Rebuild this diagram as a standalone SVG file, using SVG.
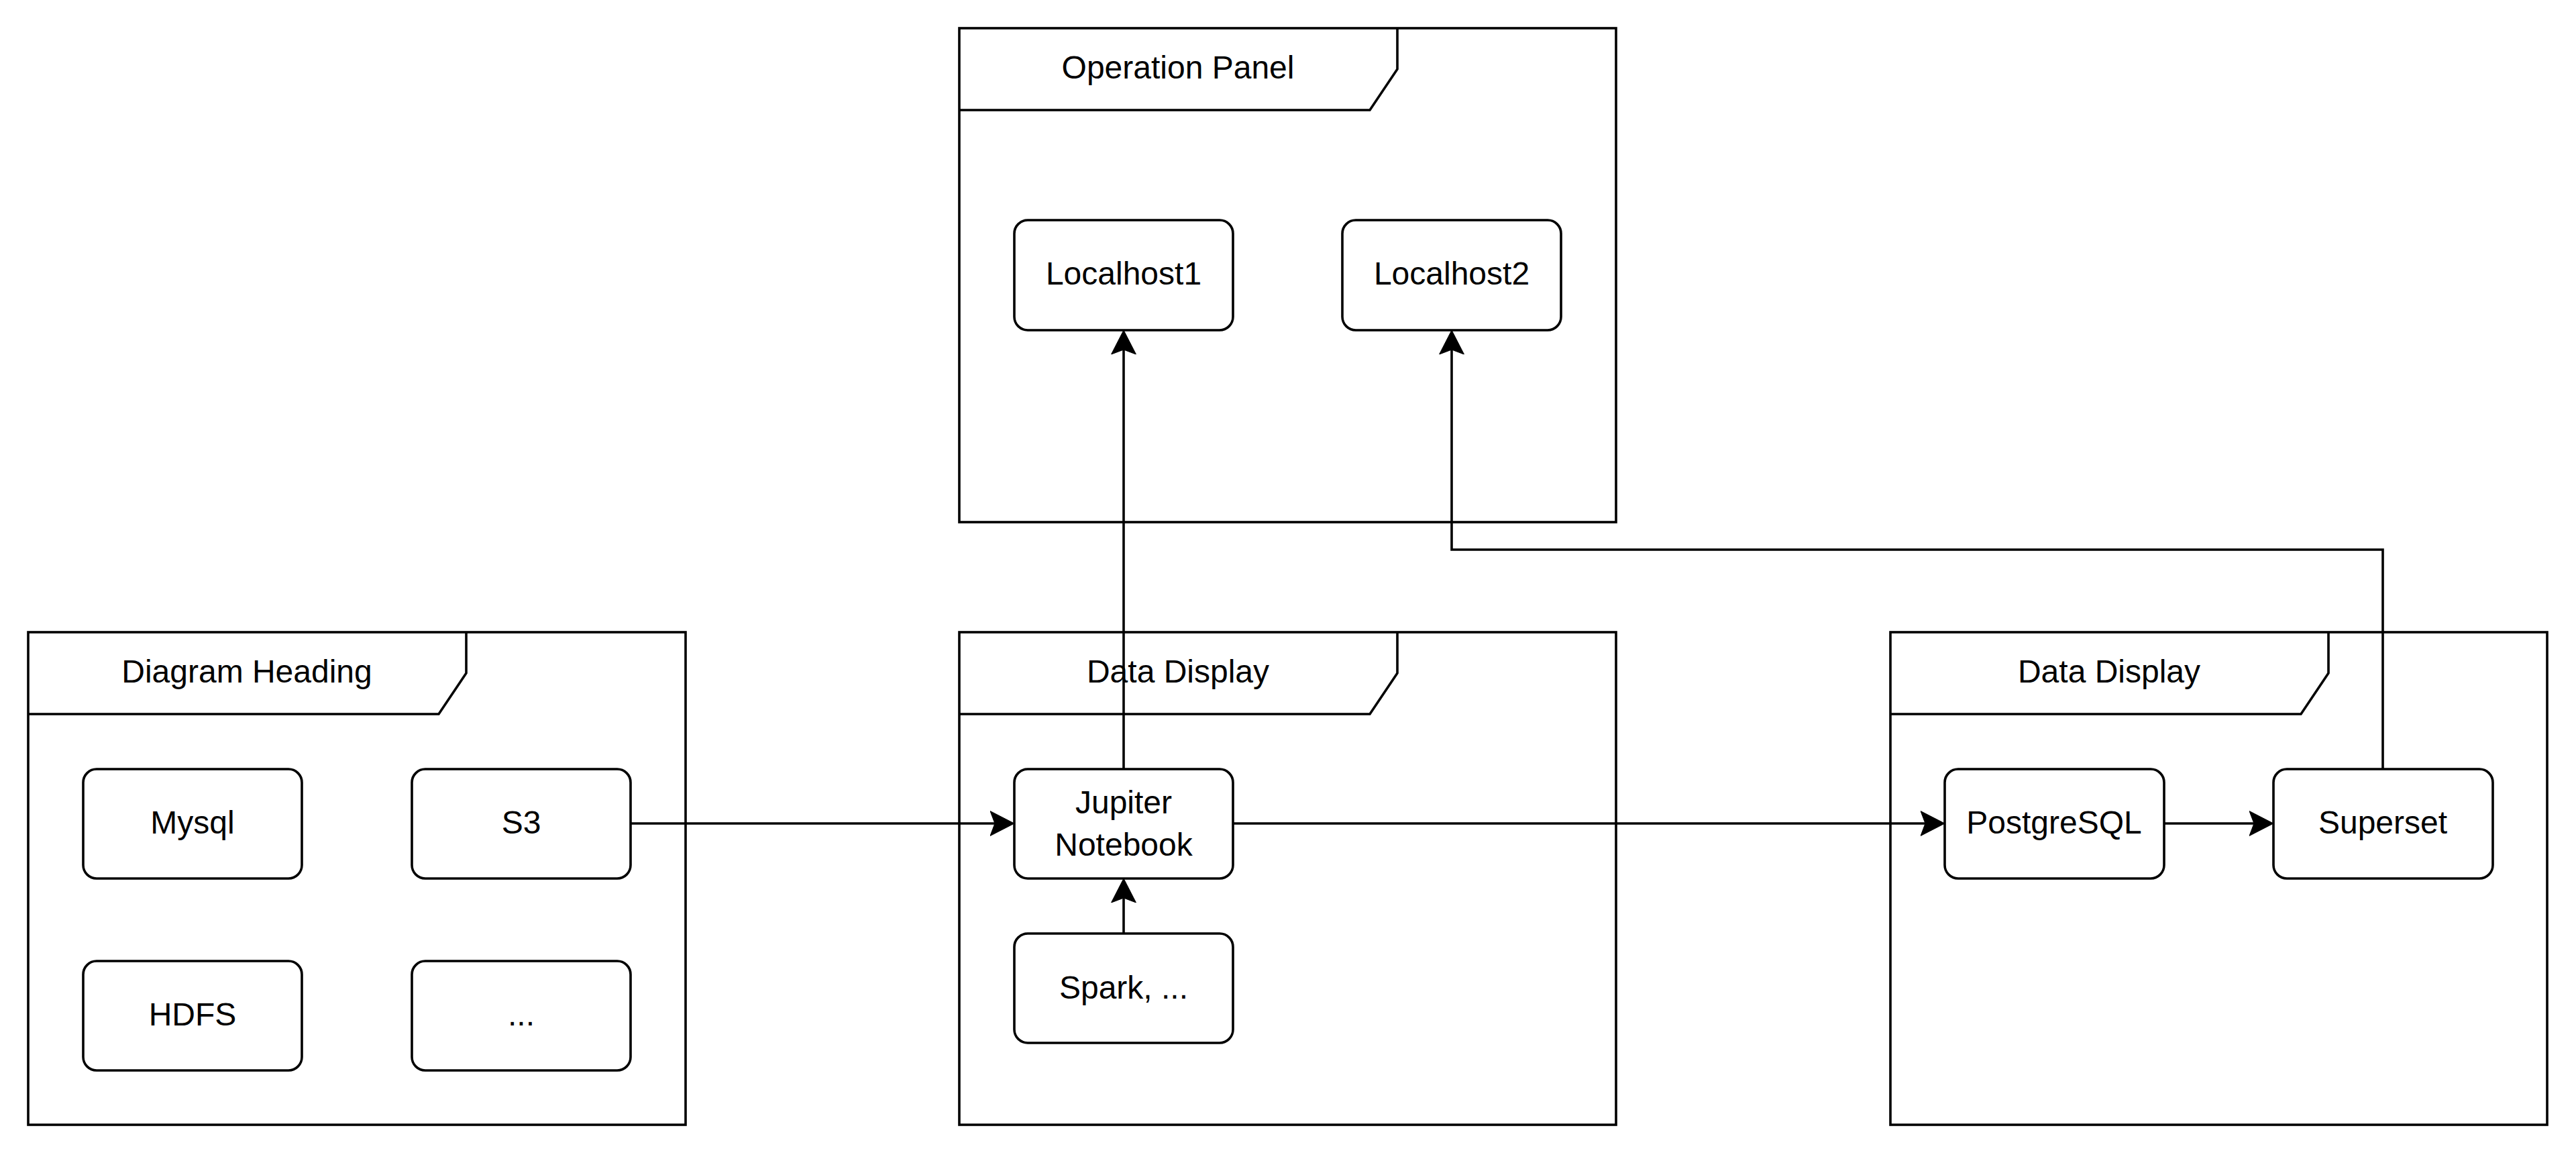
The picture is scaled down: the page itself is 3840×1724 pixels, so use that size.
<svg xmlns="http://www.w3.org/2000/svg" width="3840" height="1724" viewBox="0 0 3840 1724">
<style>
.frame{fill:none;stroke:#000;stroke-width:3.6}
.node{fill:#fff;stroke:#000;stroke-width:3.6}
.lbl{font-family:"Liberation Sans",Arial,Helvetica,sans-serif;font-size:48px;fill:#000;text-anchor:middle}
.edge{fill:none;stroke:#000;stroke-width:3.6;marker-end:url(#arr)}
</style>
<defs>
<marker id="arr" markerUnits="userSpaceOnUse" viewBox="0 -20 40 40" markerWidth="40" markerHeight="40" refX="7" refY="0" orient="auto">
<path d="M0,-18.5 L36,0 L0,18.5 L7,0 Z" fill="#000" stroke="#000" stroke-width="1"/>
</marker>
</defs>
<rect width="3840" height="1724" fill="#fff"/>
<g id="frame-operation-panel">
<rect class="frame" x="1430" y="42" width="979" height="736"/>
<path class="frame" d="M1430,164 H2042 L2083,103 V42"/>
<text class="lbl" x="1756" y="117">Operation Panel</text>
</g>
<g id="frame-diagram-heading">
<rect class="frame" x="42" y="942" width="980" height="734"/>
<path class="frame" d="M42,1064 H654 L695,1003 V942"/>
<text class="lbl" x="368" y="1017">Diagram Heading</text>
</g>
<g id="frame-data-display-1">
<rect class="frame" x="1430" y="942" width="979" height="734"/>
<path class="frame" d="M1430,1064 H2042 L2083,1003 V942"/>
<text class="lbl" x="1756" y="1017">Data Display</text>
</g>
<g id="frame-data-display-2">
<rect class="frame" x="2818" y="942" width="979" height="734"/>
<path class="frame" d="M2818,1064 H3430 L3471,1003 V942"/>
<text class="lbl" x="3144" y="1017">Data Display</text>
</g>
<g id="connectors">
<path class="edge" d="M940,1227 H1483"/>
<path class="edge" d="M1838,1227 H2870"/>
<path class="edge" d="M3226,1227 H3360"/>
<path class="edge" d="M1675,1391 V1338"/>
<path class="edge" d="M1675,1146 V521"/>
<path class="edge" d="M3552,1146 V819 H2164 V521"/>
</g>
<g id="node-mysql"><rect class="node" x="124" y="1146" width="326" height="163" rx="20"/><text class="lbl" x="287" y="1242">Mysql</text></g>
<g id="node-s3"><rect class="node" x="614" y="1146" width="326" height="163" rx="20"/><text class="lbl" x="777" y="1242">S3</text></g>
<g id="node-hdfs"><rect class="node" x="124" y="1432" width="326" height="163" rx="20"/><text class="lbl" x="287" y="1528">HDFS</text></g>
<g id="node-more"><rect class="node" x="614" y="1432" width="326" height="163" rx="20"/><text class="lbl" x="777" y="1528">...</text></g>
<g id="node-localhost1"><rect class="node" x="1512" y="328" width="326" height="164" rx="20"/><text class="lbl" x="1675" y="424">Localhost1</text></g>
<g id="node-localhost2"><rect class="node" x="2001" y="328" width="326" height="164" rx="20"/><text class="lbl" x="2164" y="424">Localhost2</text></g>
<g id="node-jupiter"><rect class="node" x="1512" y="1146" width="326" height="163" rx="20"/><text class="lbl" x="1675" y="1212">Jupiter</text><text class="lbl" x="1675" y="1275">Notebook</text></g>
<g id="node-spark"><rect class="node" x="1512" y="1391" width="326" height="163" rx="20"/><text class="lbl" x="1675" y="1488">Spark, ...</text></g>
<g id="node-postgresql"><rect class="node" x="2899" y="1146" width="327" height="163" rx="20"/><text class="lbl" x="3062" y="1242">PostgreSQL</text></g>
<g id="node-superset"><rect class="node" x="3389" y="1146" width="327" height="163" rx="20"/><text class="lbl" x="3552" y="1242">Superset</text></g>
</svg>
